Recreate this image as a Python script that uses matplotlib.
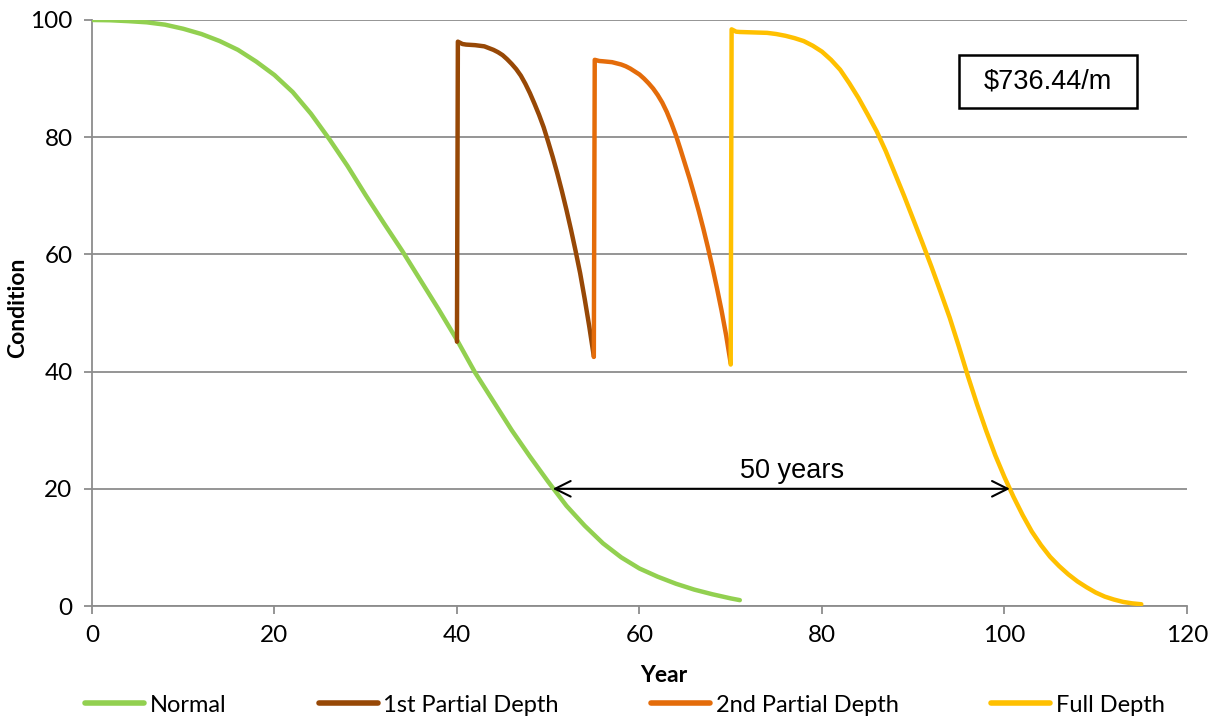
import matplotlib
matplotlib.use("Agg")
import matplotlib.pyplot as plt
from matplotlib.patches import Rectangle

# curves
normal_x = [0, 2, 4, 6, 8, 10, 12, 14, 16, 18, 20, 22, 24, 26, 28, 30, 32, 34, 36, 38,
            40, 42, 44, 46, 48, 50, 52, 54, 56, 58, 60, 62, 64, 66, 68, 70, 71]
normal_y = [100, 99.95, 99.8, 99.6, 99.2, 98.5, 97.6, 96.4, 94.9, 92.9, 90.6, 87.7, 84.0, 79.7, 75.1,
            70.1, 65.3, 60.6, 55.6, 50.6, 45.4, 39.8, 34.9, 30.0, 25.5, 21.2, 17.1, 13.7, 10.7,
            8.3, 6.4, 5.0, 3.8, 2.8, 2.0, 1.3, 1.0]

first_x = [40, 40.1, 40.6, 41, 42, 43, 43.5, 44, 44.5, 45, 45.5, 46, 46.5, 47, 47.5, 48,
           48.5, 49, 49.5, 50, 50.5, 51, 51.5, 52, 52.5, 53, 53.5, 54, 54.5, 55]
first_y = [45.1, 96.3, 95.9, 95.8, 95.7, 95.5, 95.2, 94.9, 94.5, 94.0, 93.3, 92.5, 91.6, 90.5, 89.1, 87.5,
           85.7, 83.8, 81.7, 79.2, 76.6, 73.8, 70.8, 67.6, 64.2, 60.6, 56.8, 52.4, 47.7, 42.6]

second_x = [55, 55.1, 55.6, 56, 57, 57.5, 58, 58.5, 59, 59.5, 60, 60.5, 61, 61.5, 62, 62.5,
            63, 63.5, 64, 64.5, 65, 65.5, 66, 66.5, 67, 67.5, 68, 68.5, 69, 69.5, 70]
second_y = [42.5, 93.2, 93.0, 92.95, 92.8, 92.6, 92.4, 92.1, 91.7, 91.2, 90.7, 90.0, 89.2, 88.3, 87.2, 85.9,
            84.3, 82.4, 80.3, 77.9, 75.4, 72.9, 70.2, 67.4, 64.4, 61.2, 57.8, 54.2, 50.4, 46.2, 41.4]

full_x = [70, 70.1, 70.6, 71, 72, 73, 74, 75, 76, 77, 78, 79, 80, 81, 82, 83, 84, 85, 86, 87,
          88, 89, 90, 91, 92, 93, 94, 95, 96, 97, 98, 99, 100, 101, 102, 103, 104, 105, 106,
          107, 108, 109, 110, 111, 112, 113, 114, 115]
full_y = [41.2, 98.4, 98.0, 97.95, 97.9, 97.85, 97.8, 97.6, 97.3, 96.9, 96.4, 95.6, 94.6, 93.2, 91.5,
          89.2, 86.7, 83.9, 81.0, 77.6, 73.8, 70.0, 66.0, 62.0, 57.9, 53.6, 49.2, 44.3, 39.2, 34.4,
          29.9, 25.7, 22.0, 18.6, 15.5, 12.7, 10.4, 8.4, 6.8, 5.4, 4.2, 3.2, 2.3, 1.6, 1.1, 0.7,
          0.45, 0.3]

series_names = ["Normal", "1st Partial Depth", "2nd Partial Depth", "Full Depth"]
series_colors = ["#92D050", "#974806", "#E46C0A", "#FFC000"]

span_start = 50.5
span_end = 100.6
span_level = 20
span_label = "50 years"
cost_label = "$736.44/m"

fig = plt.figure(figsize=(12.18, 7.21), dpi=100)
ax = fig.add_axes([0.0755, 0.1595, 0.899, 0.8128])

all_x = [normal_x, first_x, second_x, full_x]
all_y = [normal_y, first_y, second_y, full_y]
for xs, ys, name, col in zip(all_x, all_y, series_names, series_colors):
    ax.plot(xs, ys, color=col, lw=3.2, label=name,
            solid_capstyle="round", solid_joinstyle="round", zorder=3)

ax.set_xlim(0, 120)
ax.set_ylim(0, 100)
ax.set_xticks(range(0, 121, 20))
ax.set_yticks(range(0, 101, 20))

grey = "#8C8C8C"
ax.grid(axis="y", color=grey, lw=1.3, zorder=1)
ax.set_axisbelow(True)
for side in ["top", "right"]:
    ax.spines[side].set_visible(False)
for side in ["left", "bottom"]:
    ax.spines[side].set_color(grey)
    ax.spines[side].set_linewidth(1.3)
ax.tick_params(axis="both", color=grey, width=1.3, length=6, direction="out",
               labelsize=17.5, pad=8)
for lab in ax.get_xticklabels() + ax.get_yticklabels():
    lab.set_family("Lato")

ax.set_xlabel("Year", fontsize=16.5, fontweight="bold", family="Lato")
ax.xaxis.set_label_coords(0.522, -0.1)
ax.set_ylabel("Condition", fontsize=16.5, fontweight="bold", family="Lato")
ax.yaxis.set_label_coords(-0.058, 0.509)

# 50 years span arrow
ax.annotate("", xy=(span_start, span_level), xytext=(span_end, span_level),
            arrowprops=dict(arrowstyle="<->", color="black", lw=1.5,
                            mutation_scale=28, shrinkA=0, shrinkB=0), zorder=4)
ax.text((span_start + span_end) / 2 + 1.2, 21.8, span_label, fontsize=19.5,
        family="Liberation Sans", ha="center", va="baseline")

# cost box
ax.add_patch(Rectangle((0.7918, 0.8498), 0.1626, 0.0904, transform=ax.transAxes,
                       fill=False, edgecolor="black", lw=1.8, zorder=5))
ax.text(0.8731, 0.895, cost_label, transform=ax.transAxes, fontsize=19.5,
        family="Liberation Sans", ha="center", va="center", zorder=6)

leg = fig.legend(loc="lower center", bbox_to_anchor=(0.513, -0.022), ncol=4, frameon=False,
                 prop={"family": "Lato", "size": 17}, handlelength=2.5,
                 handletextpad=0.25, columnspacing=3.9)
for h in leg.get_lines():
    h.set_linewidth(4)

fig.savefig("out.png", dpi=100)
